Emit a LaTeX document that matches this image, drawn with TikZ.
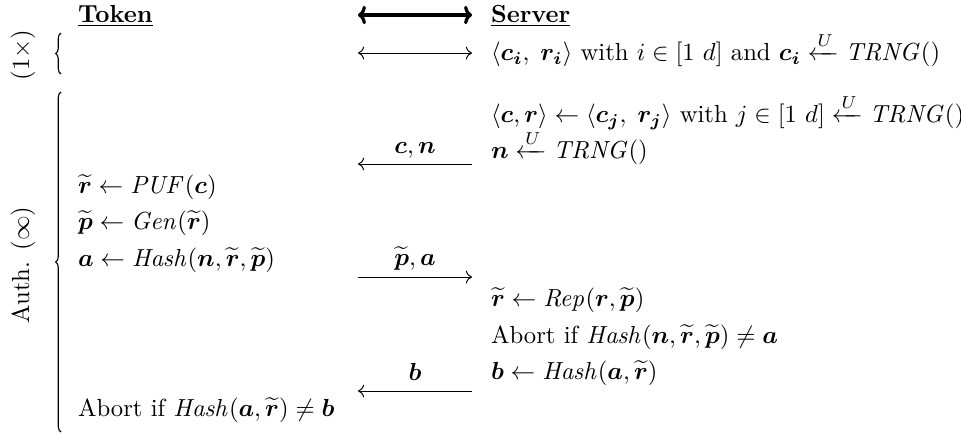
\documentclass[tikz,border=0pt]{standalone}
\usepackage{amsmath}
\usetikzlibrary{decorations.pathreplacing,arrows.meta}
\newcommand{\bv}[1]{\boldsymbol{#1}}
\newcommand{\tbv}[1]{\widetilde{\boldsymbol{#1}}}
\begin{document}
\begin{tikzpicture}[x=0.405pt,y=-0.405pt,
  txt/.style={anchor=mid west, inner sep=0pt, outer sep=0pt},
  hdr/.style={anchor=base west, inner sep=0pt, outer sep=0pt},
  lbl/.style={anchor=mid, inner sep=0pt, outer sep=0pt},
  msg/.style={line width=0.4pt},
  bigmsg/.style={line width=1.3pt, {To[length=3.2pt,width=7.5pt]}-{To[length=3.2pt,width=7.5pt]}},
  side/.style={rotate=90, inner sep=0pt},
  brc/.style={line width=0.45pt, decorate, decoration={brace, amplitude=2.2pt}}]
\useasboundingbox (0,0) rectangle (961,433);
% headers
\node[hdr] (tok) at (78,22) {\underline{\textbf{Token}}};
\node[hdr] (srv) at (491,22) {\underline{\textbf{Server}}};
\coordinate (hl) at (358,15); \coordinate (hr) at (472,15);
\draw[bigmsg] (hl) -- (hr);
% side labels and braces
\node[side] (l1) at (23,55) {(1$\times$)};
\node[side] (l2) at (23,265) {Auth. ($\infty$)};
\coordinate (b1b) at (61,74); \coordinate (b1t) at (61,33);
\draw[brc] (b1b) -- (b1t);
\coordinate (b2b) at (61,432); \coordinate (b2t) at (61,92);
\draw[brc] (b2b) -- (b2t);
% row 1
\coordinate (a1l) at (358,53); \coordinate (a1r) at (472,53);
\draw[msg,<->] (a1l) -- (a1r);
\node[txt] (s1) at (491,55) {$\langle \bv{c_i},\; \bv{r_i}\rangle$ with $i\in[1\ d]$ and $\bv{c_i}\xleftarrow{U}\mathit{TRNG}()$};
% auth
\node[txt] (s2) at (491,117) {$\langle \bv{c},\bv{r}\rangle\leftarrow\langle \bv{c_j},\; \bv{r_j}\rangle$ with $j\in[1\ d]\xleftarrow{U}\mathit{TRNG}()$};
\node[txt] (s3) at (491,153) {$\bv{n}\xleftarrow{U}\mathit{TRNG}()$};
\node[lbl] (m1) at (415,148) {$\bv{c},\bv{n}$};
\coordinate (m1r) at (472,164); \coordinate (m1l) at (358,164);
\draw[msg,->] (m1r) -- (m1l);
\node[txt] (t1) at (78,188) {$\tbv{r}\leftarrow\mathit{PUF}(\bv{c})$};
\node[txt] (t2) at (78,224) {$\tbv{p}\leftarrow\mathit{Gen}(\tbv{r})$};
\node[txt] (t3) at (78,261) {$\bv{a}\leftarrow\mathit{Hash}(\bv{n},\tbv{r},\tbv{p})$};
\node[lbl] (m2) at (415,260) {$\tbv{p},\bv{a}$};
\coordinate (m2l) at (358,277); \coordinate (m2r) at (472,277);
\draw[msg,->] (m2l) -- (m2r);
\node[txt] (s4) at (491,301) {$\tbv{r}\leftarrow\mathit{Rep}(\bv{r},\tbv{p})$};
\node[txt] (s5) at (491,338) {Abort if $\mathit{Hash}(\bv{n},\tbv{r},\tbv{p})\neq\bv{a}$};
\node[txt] (s6) at (491,374) {$\bv{b}\leftarrow\mathit{Hash}(\bv{a},\tbv{r})$};
\node[lbl] (m3) at (415,375) {$\bv{b}$};
\coordinate (m3r) at (472,391); \coordinate (m3l) at (358,391);
\draw[msg,->] (m3r) -- (m3l);
\node[txt] (t4) at (78,411) {Abort if $\mathit{Hash}(\bv{a},\tbv{r})\neq\bv{b}$};
\end{tikzpicture}
\end{document}
